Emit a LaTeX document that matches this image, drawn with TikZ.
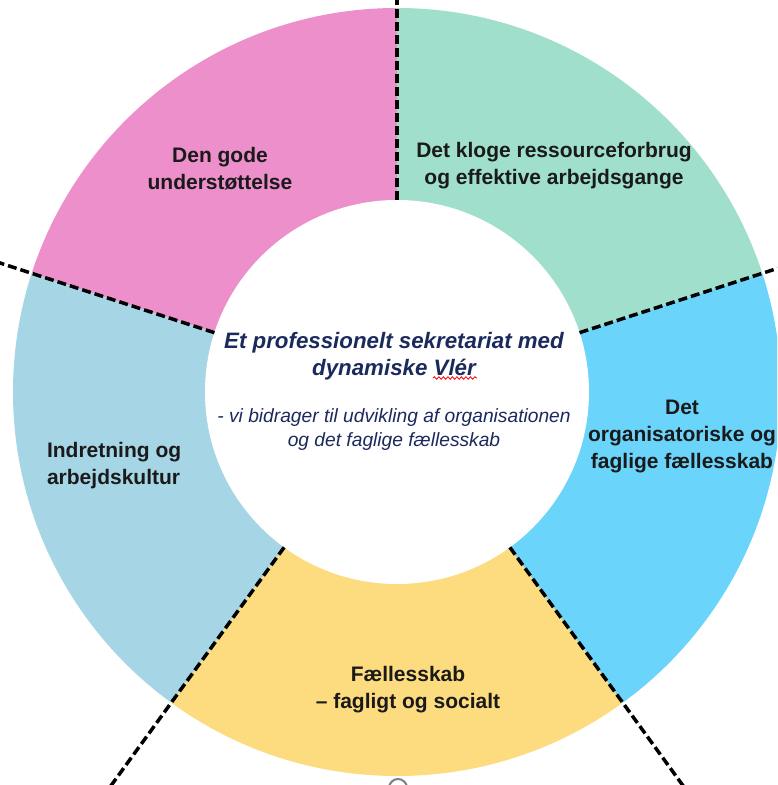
\documentclass[tikz,border=0pt]{standalone}
\usepackage{fontspec}
\setmainfont{Liberation Sans}
\usetikzlibrary{decorations.pathmorphing}
\definecolor{pinkseg}{HTML}{EC8FCB}
\definecolor{mintseg}{HTML}{9FDFCB}
\definecolor{cyanseg}{HTML}{6AD4FA}
\definecolor{yellowseg}{HTML}{FDDB7F}
\definecolor{blueseg}{HTML}{A6D6E6}
\definecolor{labeltext}{HTML}{1A1A1A}
\definecolor{navytext}{HTML}{1B2A5C}
\tikzset{
  seglabel/.style={font=\fontsize{10.5}{13.5}\selectfont\bfseries, text=labeltext, align=center},
  divider/.style={line width=1.75pt, dash pattern=on 4.5pt off 2pt},
  spellwave/.style={red, line width=0.4pt, decorate, decoration={snake, amplitude=0.65pt, segment length=2.25pt}},
}
\begin{document}
\begin{tikzpicture}[x=0.5pt,y=0.5pt] % five-part wheel
  \useasboundingbox (-397,-393) rectangle (380,392);
  \clip (-397,-393) rectangle (380,392);
  \fill[white] (-397,-393) rectangle (380,392);
  \foreach \a/\col in {90/pinkseg,162/blueseg,234/yellowseg,306/cyanseg,18/mintseg} {
    \begin{scope}
      \clip (0,0) -- (\a:900) -- (\a+36:900) -- (\a+72:900) -- cycle;
      \fill[\col] (0,0) circle (384);
    \end{scope}
  }
  \fill[white] (0,0) circle (192);
  % dashed borders between the parts
  \foreach \a in {18,90,162,234,306}
    \draw[divider] (\a:192) -- (\a:600);
  \node[seglabel] (support) at (-177,223) {Den gode\\understøttelse};
  \node[seglabel] (resources) at (157,226) {Det kloge ressourceforbrug\\og effektive arbejdsgange};
  \node[seglabel] (community) at (285,-45) {Det\\organisatoriske og\\faglige fællesskab};
  \node[seglabel, align=left, anchor=west] (interior) at (-357,-74) {Indretning og\\arbejdskultur};
  \node[seglabel] (social) at (11,-298) {Fællesskab\\– fagligt og socialt};
  \node[font=\fontsize{11.15}{13.5}\selectfont\bfseries\itshape, text=navytext, align=center] (title) at (-3,36)
    {Et professionelt sekretariat med\\dynamiske Vlér};
  \node[font=\fontsize{9.6}{12}\selectfont\itshape, text=navytext, align=center] (subtitle) at (-3,-38)
    {- vi bidrager til udvikling af organisationen\\og det faglige fællesskab};
  \coordinate (wavestart) at (36,14);
  \coordinate (waveend) at (80,14);
  \draw[spellwave] (wavestart) -- (waveend);
  \draw[gray, line width=1pt] (1,-396) circle (9);
\end{tikzpicture}
\end{document}
